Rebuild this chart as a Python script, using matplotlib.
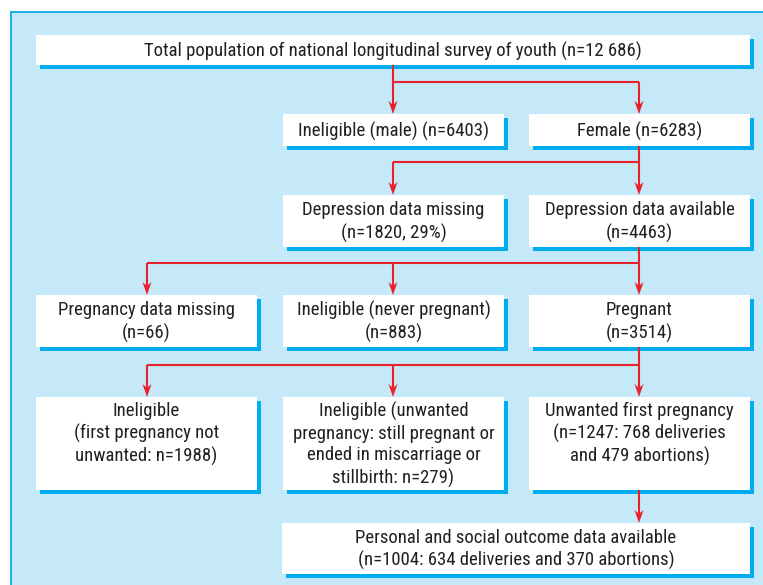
import matplotlib
matplotlib.use("Agg")
import matplotlib.pyplot as plt
from matplotlib.patches import Rectangle, Polygon
from matplotlib import font_manager

# ---- data: box labels ----
top_label = "Total population of national longitudinal survey of youth (n=12 686)"
row2_labels = ["Ineligible (male) (n=6403)", "Female (n=6283)"]
row3_labels = ["Depression data missing\n(n=1820, 29%)", "Depression data available\n(n=4463)"]
row4_labels = ["Pregnancy data missing\n(n=66)", "Ineligible (never pregnant)\n(n=883)", "Pregnant\n(n=3514)"]
row5_labels = ["Ineligible\n(first pregnancy not\nunwanted: n=1988)",
               "Ineligible (unwanted\npregnancy: still pregnant or\nended in miscarriage or\nstillbirth: n=279)",
               "Unwanted first pregnancy\n(n=1247: 768 deliveries\nand 479 abortions)"]
final_label = "Personal and social outcome data available\n(n=1004: 634 deliveries and 370 abortions)"

# ---- style ----
BG = "#c6e9f9"
FRAME = "#1aafe8"
SHADOW = "#00aeef"
RED = "#e8212b"
TXT = "#231f20"

avail = {f.name for f in font_manager.fontManager.ttflist}
if "Roboto Condensed" in avail:
    fam, FS = ["Roboto Condensed"], 13.5
elif "Liberation Sans Narrow" in avail:
    fam, FS = ["Liberation Sans Narrow"], 13.5
else:
    fam, FS = ["Roboto", "DejaVu Sans"], 12
LS = 1.26

W, H = 763, 585
fig = plt.figure(figsize=(W / 100, H / 100), dpi=100)
ax = fig.add_axes([0, 0, 1, 1])
ax.set_xlim(0, W)
ax.set_ylim(H, 0)
ax.axis("off")

ax.add_patch(Rectangle((11, 12), 800, 650, facecolor=BG, edgecolor=FRAME, lw=1.4, zorder=0))

# columns (pixel layout)
L, M, R = (36, 257), (283, 504), (529, 750)
FULL = (36, 750)
BOT = (282, 750)


def box(xr, yr, label, va="center"):
    x0, x1 = xr
    y0, y1 = yr
    ax.add_patch(Rectangle((x0 + 4, y0 + 4), x1 - x0, y1 - y0, facecolor=SHADOW, edgecolor="none", zorder=1))
    ax.add_patch(Rectangle((x0, y0), x1 - x0, y1 - y0, facecolor="white", edgecolor="none", zorder=2))
    cx = (x0 + x1) / 2
    if va == "center":
        ax.text(cx, (y0 + y1) / 2 + 1, label, ha="center", va="center", multialignment="center",
                fontsize=FS, color=TXT, family=fam, linespacing=LS, zorder=3)
    else:
        ax.text(cx, y0 + 5, label, ha="center", va="top", multialignment="center",
                fontsize=FS, color=TXT, family=fam, linespacing=LS, zorder=3)


box(FULL, (35, 65), top_label)
rows = [(row2_labels, [M, R], (114, 146)),
        (row3_labels, [M, R], (195, 247)),
        (row4_labels, [L, M, R], (295, 347))]
for labels, cols, yr in rows:
    for lab, c in zip(labels, cols):
        box(c, yr, lab)
for lab, c in zip(row5_labels, [L, M, R]):
    box(c, (397, 490), lab, va="top")
box(BOT, (523, 574), final_label)

LW = 1.5


def line(xs, ys):
    ax.plot(xs, ys, color=RED, lw=LW, solid_capstyle="butt", zorder=4)


def arrow(x, y0, y1):
    hl, hw, notch = 13, 4.5, 4
    line([x, x], [y0, y1 - hl + notch])
    ax.add_patch(Polygon([(x, y1), (x - hw, y1 - hl), (x, y1 - hl + notch), (x + hw, y1 - hl)],
                         closed=True, facecolor=RED, edgecolor="none", zorder=4))


cxL, cxM, cxR = 147, 393, 639
# level 1
line([cxM, cxM], [65, 82]); line([cxM, cxR], [82, 82])
arrow(cxM, 82, 114); arrow(cxR, 82, 114)
# level 2
line([cxR, cxR], [146, 162]); line([cxM, cxR], [162, 162])
arrow(cxM, 162, 195); arrow(cxR, 162, 195)
# level 3
line([cxR, cxR], [247, 263]); line([cxL, cxR], [263, 263])
for x in (cxL, cxM, cxR):
    arrow(x, 263, 295)
# level 4
line([cxR, cxR], [347, 365]); line([cxL, cxR], [365, 365])
for x in (cxL, cxM, cxR):
    arrow(x, 365, 397)
# level 5
arrow(cxR, 490, 523)

fig.savefig("out.png", dpi=100, facecolor="white")
